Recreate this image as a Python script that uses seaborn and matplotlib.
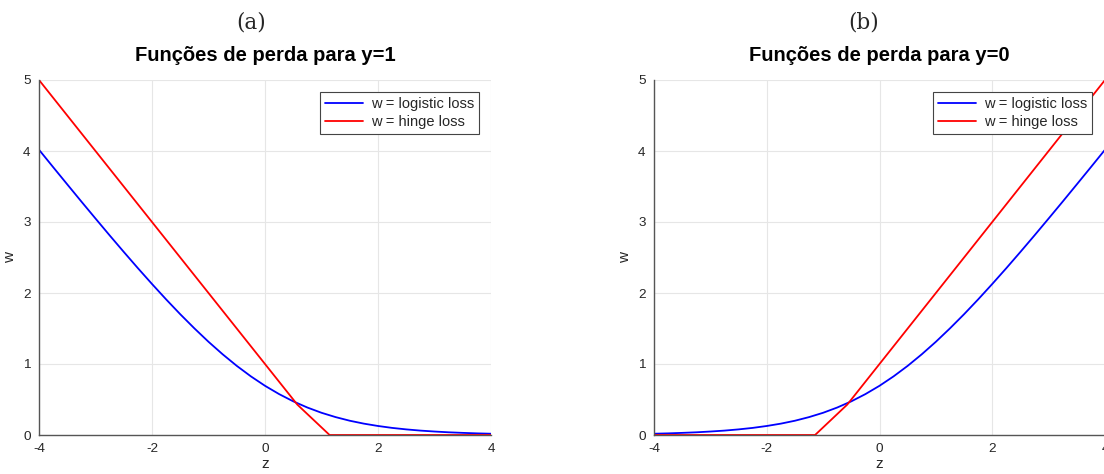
import matplotlib
matplotlib.use("Agg")
import matplotlib.pyplot as plt
import seaborn as sns
import pandas as pd

# values
z_logistic = [-4, -3.75, -3.5, -3.25, -3, -2.75, -2.5, -2.25, -2, -1.75, -1.5, -1.25, -1,
              -0.75, -0.5, -0.25, 0, 0.25, 0.5, 0.75, 1, 1.25, 1.5, 1.75, 2, 2.25, 2.5,
              2.75, 3, 3.25, 3.5, 3.75, 4]
w_logistic_y1 = [4.018, 3.773, 3.530, 3.288, 3.049, 2.812, 2.579, 2.350, 2.127, 1.910, 1.701,
                 1.502, 1.313, 1.137, 0.974, 0.826, 0.693, 0.576, 0.474, 0.387, 0.313, 0.252,
                 0.201, 0.160, 0.127, 0.100, 0.079, 0.062, 0.049, 0.038, 0.030, 0.023, 0.018]
w_logistic_y0 = w_logistic_y1[::-1]

z_hinge_y1 = [-4, 0.571, 1.143, 4]
w_hinge_y1 = [5, 0.429, 0, 0]
z_hinge_y0 = [-4, -1.143, -0.571, 4]
w_hinge_y0 = [0, 0, 0.429, 5]

titles = ["Funções de perda para y=1", "Funções de perda para y=0"]
letters = ["(a)", "(b)"]

sns.set_style("whitegrid")
plt.rcParams['font.family'] = ['Liberation Sans', 'DejaVu Sans']
plt.rcParams['axes.unicode_minus'] = False

fig = plt.figure(figsize=(11.04, 4.74), dpi=100)
ax_a = fig.add_axes([39 / 1104, 39 / 474, 452 / 1104, 355 / 474])
ax_b = fig.add_axes([654 / 1104, 39 / 474, 451 / 1104, 355 / 474])

panels = [
    (ax_a, w_logistic_y1, z_hinge_y1, w_hinge_y1),
    (ax_b, w_logistic_y0, z_hinge_y0, w_hinge_y0),
]

for i, (ax, w_log, z_h, w_h) in enumerate(panels):
    df_log = pd.DataFrame({"z": z_logistic, "w": w_log})
    df_h = pd.DataFrame({"z": z_h, "w": w_h})
    sns.lineplot(data=df_log, x="z", y="w", ax=ax, color="#0000ff", lw=1.3,
                 label="w = logistic loss")
    sns.lineplot(data=df_h, x="z", y="w", ax=ax, color="#ff0000", lw=1.3,
                 label="w = hinge loss")
    ax.set_xlim(-4, 4)
    ax.set_ylim(0, 5)
    ax.set_xticks([-4, -2, 0, 2, 4])
    ax.set_yticks([0, 1, 2, 3, 4, 5])
    ax.grid(True, color="#e6e6e6", lw=0.8)
    for s in ["top", "right"]:
        ax.spines[s].set_visible(False)
    for s in ["left", "bottom"]:
        ax.spines[s].set_color("#555555")
        ax.spines[s].set_linewidth(1.0)
    ax.tick_params(direction="in", length=4, color="#555555", labelsize=9.7,
                   labelcolor="#262626", pad=6)
    ax.set_xlabel("z", fontsize=11, color="#262626", labelpad=1)
    ax.set_ylabel("w", fontsize=11, color="#262626", labelpad=4)
    ax.set_title(titles[i], fontsize=14.5, fontweight="bold", color="black", pad=14)
    leg = ax.legend(loc="upper right", bbox_to_anchor=(1 - (12 if i == 0 else 13) / 452, 1 - 12 / 355),
                    borderaxespad=0, fontsize=10.5, frameon=True, fancybox=False,
                    handlelength=2.6, handletextpad=0.5, borderpad=0.35, labelspacing=0.25)
    leg.get_frame().set_edgecolor("#444444")
    leg.get_frame().set_linewidth(0.8)
    leg.get_frame().set_alpha(1)

fig.text(251 / 1104, 1 - 22 / 474, letters[0], family="DejaVu Serif", fontsize=15.5,
         ha="center", va="center")
fig.text(864 / 1104, 1 - 22 / 474, letters[1], family="DejaVu Serif", fontsize=15.5,
         ha="center", va="center")

fig.savefig("out.png", dpi=100)
